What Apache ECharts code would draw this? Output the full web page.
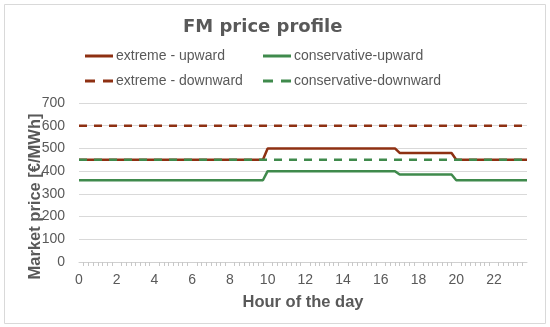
<!DOCTYPE html>
<html><head><meta charset="utf-8">
<script src="https://cdn.jsdelivr.net/npm/echarts@6/dist/echarts.min.js"></script>
<style>html,body{margin:0;padding:0;background:#fff}#c{width:550px;height:327px}</style>
</head><body><div id="c"></div>
<script>
// hour of day (x) breakpoints
const extremeUpHours = [0, 9.75, 10, 16.75, 17, 19.75, 20, 23.75];
const extremeUpValues = [450, 450, 500, 500, 480, 480, 450, 450];
const consUpHours = [0, 9.75, 10, 16.75, 17, 19.75, 20, 23.75];
const consUpValues = [360, 360, 400, 400, 385, 385, 360, 360];
const extremeDownHours = [0, 23.75];
const extremeDownValues = [600, 600];
const consDownHours = [0, 23.75];
const consDownValues = [450, 450];
const names = ['extreme - upward', 'conservative-upward', 'extreme - downward', 'conservative-downward'];
const title = 'FM price profile';
const xTitle = 'Hour of the day';
const yTitle = 'Market price [€/MWh]';

const red = '#8E3012', green = '#3F8A4C', grey = '#595959';
const F = 'Liberation Sans';
const zip = (a, b) => a.map((x, i) => [x, b[i]]);
const solidIcon = 'path://M0,3.5L28,3.5L28,6.5L0,6.5Z';
const dashIcon = 'path://M0,3.5L10,3.5L10,6.5L0,6.5ZM18,3.5L28,3.5L28,6.5L18,6.5Z';
const leg = (name, left, top, icon) => ({data: [name], left, top, itemWidth: 28, itemHeight: 10, itemGap: 0,
  padding: 0, icon, textStyle: {fontFamily: F, fontSize: 14, color: grey, padding: [0, 0, 0, -2]}});
const chart = echarts.init(document.getElementById('c'));
chart.setOption({
  animation: false,
  graphic: [{type: 'rect', shape: {x: 4.5, y: 4.5, width: 541, height: 319}, style: {fill: 'none', stroke: '#d9d9d9', lineWidth: 1}}],
  title: {text: title, left: 183, top: 18, padding: 0, textStyle: {fontFamily: 'DejaVu Sans', fontSize: 18, fontWeight: 'bold', color: grey}},
  legend: [
    leg(names[0], 85, 49, solidIcon),
    leg(names[1], 263, 49, solidIcon),
    leg(names[2], 85, 74, dashIcon),
    leg(names[3], 263, 74, dashIcon)
  ],
  grid: {left: 79, right: 23, top: 103, bottom: 65},
  xAxis: {type: 'value', min: 0, max: 23.75, interval: 2,
    name: xTitle, nameLocation: 'middle', nameGap: 32, nameMoveOverlap: false,
    nameTextStyle: {fontFamily: F, fontSize: 16.5, fontWeight: 'bold', color: grey},
    axisLine: {lineStyle: {color: '#d0d0d0'}},
    axisTick: {show: false},
    minorTick: {show: true, splitNumber: 8, length: 4, lineStyle: {color: '#c8c8c8'}},
    splitLine: {show: false},
    axisLabel: {fontFamily: F, fontSize: 14, color: grey, margin: 11,
      formatter: v => (v % 2 === 0 && v <= 22) ? String(v) : ''}},
  yAxis: {type: 'value', min: 0, max: 700, interval: 100,
    name: yTitle, nameLocation: 'middle', nameGap: 35, nameMoveOverlap: false,
    nameTextStyle: {fontFamily: F, fontSize: 16.5, fontWeight: 'bold', color: grey, padding: [0, 28, 0, 0]},
    axisLine: {show: false}, axisTick: {show: false},
    splitLine: {lineStyle: {color: '#d9d9d9'}},
    axisLabel: {fontFamily: F, fontSize: 14, color: grey, margin: 14}},
  series: [
    {name: names[0], type: 'line', data: zip(extremeUpHours, extremeUpValues), symbol: 'none', color: red, lineStyle: {width: 2.5, color: red}, z: 4},
    {name: names[1], type: 'line', data: zip(consUpHours, consUpValues), symbol: 'none', color: green, lineStyle: {width: 2.5, color: green}, z: 4},
    {name: names[2], type: 'line', data: zip(extremeDownHours, extremeDownValues), symbol: 'none', color: red, lineStyle: {width: 2.5, color: red, type: [8, 7]}, z: 3},
    {name: names[3], type: 'line', data: zip(consDownHours, consDownValues), symbol: 'none', color: green, lineStyle: {width: 2.5, color: green, type: [8, 7]}, z: 5}
  ]
});
</script></body></html>
